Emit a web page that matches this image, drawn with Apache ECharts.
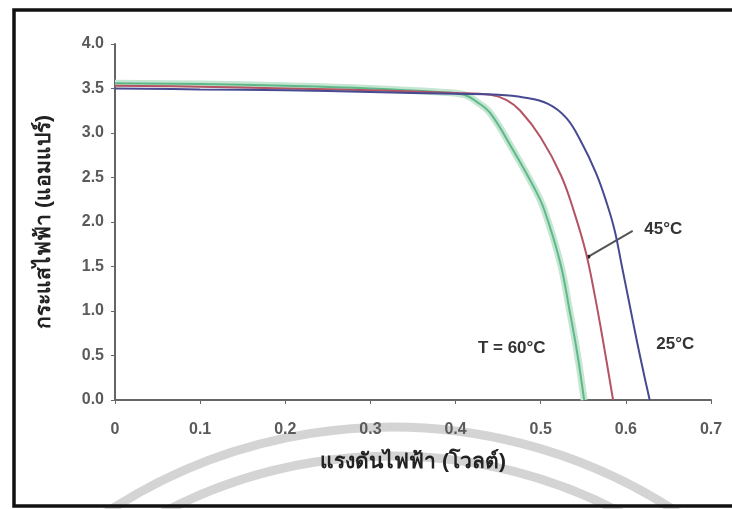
<!DOCTYPE html>
<html>
<head>
<meta charset="utf-8">
<script src="https://cdn.jsdelivr.net/npm/echarts@6/dist/echarts.min.js"></script>
<style>
  html, body { margin: 0; padding: 0; background: #fff; }
  #chart { width: 732px; height: 509px; }
</style>
</head>
<body>
<div id="chart"></div>
<script>
// I-V curves of a solar cell at three temperatures (voltage V, current A)
const curve25 = [
  [0, 3.50], [0.1, 3.49], [0.2, 3.48], [0.3, 3.46], [0.4, 3.44], [0.45, 3.43],
  [0.48, 3.40], [0.508, 3.33], [0.53, 3.17], [0.547, 2.91], [0.565, 2.55],
  [0.578, 2.20], [0.587, 1.90], [0.595, 1.52], [0.604, 1.09], [0.613, 0.66],
  [0.621, 0.30], [0.628, 0]
];
const curve45 = [
  [0, 3.53], [0.1, 3.52], [0.2, 3.50], [0.3, 3.48], [0.4, 3.45], [0.441, 3.43],
  [0.46, 3.37], [0.476, 3.25], [0.5, 2.95], [0.524, 2.52], [0.539, 2.12],
  [0.553, 1.66], [0.564, 1.15], [0.574, 0.62], [0.585, 0]
];
const curve60 = [
  [0, 3.56], [0.1, 3.55], [0.2, 3.53], [0.3, 3.50], [0.38, 3.46], [0.41, 3.43],
  [0.425, 3.35], [0.441, 3.22], [0.468, 2.8], [0.492, 2.39], [0.504, 2.14],
  [0.523, 1.54], [0.534, 1.0], [0.543, 0.52], [0.551, 0]
];

// annotation labels, placed in data coordinates
const labels = [
  { text: '45°C', at: [0.644, 1.92] },
  { text: '25°C', at: [0.658, 0.63] },
  { text: 'T = 60°C', at: [0.466, 0.58] }
];
const arrow45 = [[0.608, 1.90], [0.556, 1.61]];

const xTitle = 'แรงดันไฟฟ้า (โวลต์)';
const yTitle = 'กระแสไฟฟ้า (แอมแปร์)';

const chart = echarts.init(document.getElementById('chart'));

const axisText = {
  color: '#5a5a5a', fontSize: 16, fontWeight: 'bold',
  fontFamily: 'Liberation Sans, Arial, sans-serif'
};

chart.setOption({
  animation: false,
  backgroundColor: '#fff',
  grid: { left: 115, right: 21, top: 44, bottom: 109 },
  xAxis: {
    type: 'value', min: 0, max: 0.7, interval: 0.1,
    name: xTitle, nameLocation: 'middle', nameGap: 52,
    nameTextStyle: { color: '#222', fontSize: 21, fontWeight: 'bold' },
    axisLine: { show: true, lineStyle: { color: '#666', width: 2 } },
    axisTick: { show: true, length: 4, lineStyle: { color: '#666' } },
    axisLabel: { ...axisText, margin: 22 },
    splitLine: { show: false }
  },
  yAxis: {
    type: 'value', min: 0, max: 4, interval: 0.5,
    name: yTitle, nameLocation: 'middle', nameGap: 60,
    nameTextStyle: { color: '#222', fontSize: 21, fontWeight: 'bold' },
    axisLine: { show: true, lineStyle: { color: '#666', width: 2 } },
    axisTick: { show: true, length: 4, lineStyle: { color: '#666' } },
    axisLabel: { ...axisText, margin: 11, formatter: v => v.toFixed(1) },
    splitLine: { show: false }
  },
  series: [
    {
      name: '60 halo', type: 'line', data: curve60, smooth: 0.4,
      symbol: 'none', lineStyle: { color: '#c4e6d3', width: 7 }
    },
    {
      name: '60°C', type: 'line', data: curve60, smooth: 0.4,
      symbol: 'none', lineStyle: { color: '#5fb888', width: 2 }
    },
    {
      name: '45°C', type: 'line', data: curve45, smooth: 0.4,
      symbol: 'none', lineStyle: { color: '#b45462', width: 2 }
    },
    {
      name: '25°C', type: 'line', data: curve25, smooth: 0.4,
      symbol: 'none', lineStyle: { color: '#464a92', width: 2 }
    }
  ]
});

// frame, watermark arcs, annotation texts and arrow
const toPx = p => chart.convertToPixel({ gridIndex: 0 }, p);
const a0 = toPx(arrow45[0]);
const a1 = toPx(arrow45[1]);

const graphics = [
  {
    type: 'rect', silent: true, z: -1,
    shape: { x: 14, y: 10, width: 740, height: 496 },
    style: { fill: null, stroke: '#111', lineWidth: 3.5 }
  },
  {
    type: 'arc', silent: true, z: -2,
    shape: { cx: 392, cy: 947, r: 520, startAngle: Math.PI * 1.2, endAngle: Math.PI * 1.8 },
    style: { stroke: '#d4d4d4', lineWidth: 9, fill: null }
  },
  {
    type: 'arc', silent: true, z: -2,
    shape: { cx: 392, cy: 947, r: 491, startAngle: Math.PI * 1.2, endAngle: Math.PI * 1.8 },
    style: { stroke: '#d4d4d4', lineWidth: 9, fill: null }
  },
  {
    type: 'line', silent: true,
    shape: { x1: a0[0], y1: a0[1], x2: a1[0], y2: a1[1] },
    style: { stroke: '#555', lineWidth: 2 }
  },
  {
    type: 'circle', silent: true,
    shape: { cx: a1[0], cy: a1[1], r: 2 },
    style: { fill: '#222' }
  }
];
labels.forEach(l => {
  const p = toPx(l.at);
  graphics.push({
    type: 'text', silent: true, x: p[0], y: p[1],
    style: {
      text: l.text, fill: '#333', fontSize: 17, fontWeight: 'bold',
      fontFamily: 'Liberation Sans, Arial, sans-serif', align: 'center', verticalAlign: 'middle'
    }
  });
});
chart.setOption({ graphic: graphics });
</script>
</body>
</html>
